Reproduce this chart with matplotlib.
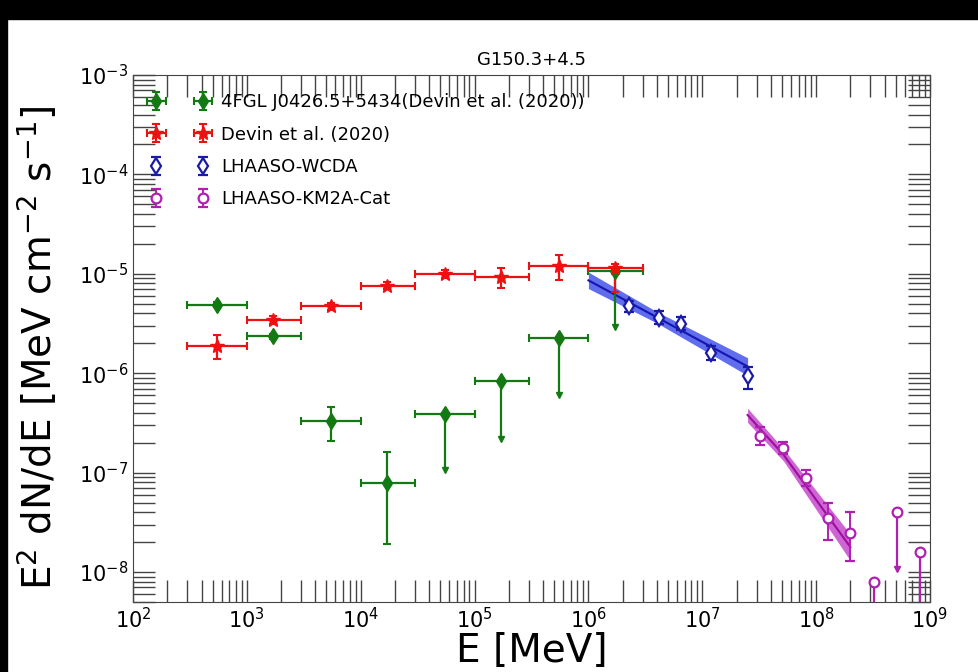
import numpy as np
import matplotlib.pyplot as plt
from matplotlib.patches import Rectangle
from matplotlib.ticker import LogLocator, NullFormatter

# 4FGL J0426.5+5434 (Devin et al. 2020): energy bins [MeV] and E^2 dN/dE [MeV cm^-2 s^-1]
fgl_e = [5.5e2, 1.7e3, 5.5e3, 1.7e4]
fgl_elo = [3e2, 1e3, 3e3, 1e4]
fgl_ehi = [1e3, 3e3, 1e4, 3e4]
fgl_flux = [4.9e-6, 2.35e-6, 3.3e-7, 7.8e-8]
fgl_lo = [4.6e-6, 2.2e-6, 2.1e-7, 1.9e-8]
fgl_hi = [5.2e-6, 2.5e-6, 4.6e-7, 1.6e-7]
# upper limits
fgl_ul_e = [5.5e4, 1.7e5, 5.5e5, 1.7e6]
fgl_ul_elo = [3e4, 1e5, 3e5, 1e6]
fgl_ul_ehi = [1e5, 3e5, 1e6, 3e6]
fgl_ul = [3.9e-7, 8.3e-7, 2.25e-6, 1.07e-5]
fgl_ul_end = [1.07e-7, 2.2e-7, 6.0e-7, 2.95e-6]

# Devin et al. (2020)
dev_e = [5.5e2, 1.7e3, 5.5e3, 1.7e4, 5.5e4, 1.7e5, 5.5e5, 1.7e6]
dev_elo = [3e2, 1e3, 3e3, 1e4, 3e4, 1e5, 3e5, 1e6]
dev_ehi = [1e3, 3e3, 1e4, 3e4, 1e5, 3e5, 1e6, 3e6]
dev_flux = [1.9e-6, 3.45e-6, 4.7e-6, 7.6e-6, 1.0e-5, 9.2e-6, 1.2e-5, 1.15e-5]
dev_lo = [1.38e-6, 3.1e-6, 4.3e-6, 7.0e-6, 9.0e-6, 7.2e-6, 8.6e-6, 6.5e-6]
dev_hi = [2.45e-6, 3.8e-6, 5.1e-6, 8.2e-6, 1.1e-5, 1.15e-5, 1.55e-5, 1.25e-5]

# LHAASO-WCDA
wcda_e = [2.26e6, 4.14e6, 6.46e6, 1.2e7, 2.5e7]
wcda_flux = [4.7e-6, 3.6e-6, 3.15e-6, 1.6e-6, 9.3e-7]
wcda_lo = [4.1e-6, 3.1e-6, 2.75e-6, 1.35e-6, 6.9e-7]
wcda_hi = [5.3e-6, 4.2e-6, 3.7e-6, 1.9e-6, 1.15e-6]
wcda_band_e = [1e6, 4e6, 2.5e7]
wcda_band_mid = [8.6e-6, 3.65e-6, 1.17e-6]
wcda_band_lo = [7.1e-6, 3.2e-6, 9.5e-7]
wcda_band_hi = [1.04e-5, 4.15e-6, 1.43e-6]

# LHAASO-KM2A-Cat
km2a_e = [3.2e7, 5.1e7, 8.1e7, 1.26e8, 2.0e8]
km2a_flux = [2.32e-7, 1.76e-7, 8.8e-8, 3.5e-8, 2.5e-8]
km2a_lo = [1.9e-7, 1.55e-7, 7.4e-8, 2.1e-8, 1.3e-8]
km2a_hi = [2.9e-7, 2.05e-7, 1.07e-7, 5.0e-8, 4.0e-8]
km2a_ul_e = [3.2e8, 5.1e8, 8.1e8]
km2a_ul = [7.9e-9, 4.0e-8, 1.6e-8]
km2a_ul_end = [2e-9, 1.07e-8, 2e-9]
km2a_band_e = [2.5e7, 5.2e7, 2.0e8]
km2a_band_mid = [3.8e-7, 1.5e-7, 1.78e-8]
km2a_band_lo = [3.2e-7, 1.3e-7, 1.3e-8]
km2a_band_hi = [4.45e-7, 1.72e-7, 2.4e-8]

green = '#137a13'
red = '#ee1111'
blue = '#1a1aa8'
magenta = '#b020b0'


def asym(v, lo, hi):
    v = np.array(v)
    return [v - np.array(lo), np.array(hi) - v]


fig = plt.figure(figsize=(9.79, 6.72), dpi=100)
ax = fig.add_axes([133 / 979, 1 - 602 / 672, (930 - 133) / 979, (602 - 75) / 672])

# bands
ax.fill_between(wcda_band_e, wcda_band_lo, wcda_band_hi, color='#3848e8', alpha=0.8, lw=0)
ax.plot(wcda_band_e, wcda_band_mid, color='#1515b0', lw=1.5)
ax.fill_between(km2a_band_e, km2a_band_lo, km2a_band_hi, color='#c030c8', alpha=0.75, lw=0)
ax.plot(km2a_band_e, km2a_band_mid, color='#9a109a', lw=1.5)

# 4FGL
ax.errorbar(fgl_e, fgl_flux, xerr=asym(fgl_e, fgl_elo, fgl_ehi), yerr=asym(fgl_flux, fgl_lo, fgl_hi),
            fmt='d', color=green, ms=8, lw=1.6, capsize=3, capthick=1.5,
            label='4FGL J0426.5+5434(Devin et al. (2020))')
ax.errorbar(fgl_ul_e, fgl_ul, xerr=asym(fgl_ul_e, fgl_ul_elo, fgl_ul_ehi),
            yerr=[np.array(fgl_ul) - np.array(fgl_ul_end), np.zeros(len(fgl_ul))],
            fmt='d', color=green, ms=8, lw=1.6, capsize=0)
ax.errorbar(fgl_ul_e, fgl_ul, xerr=asym(fgl_ul_e, fgl_ul_elo, fgl_ul_ehi),
            fmt='none', ecolor=green, lw=0, capsize=3, capthick=1.5)
ax.plot(fgl_ul_e, fgl_ul_end, 'v', color=green, ms=5)

# Devin
ax.errorbar(dev_e, dev_flux, xerr=asym(dev_e, dev_elo, dev_ehi), yerr=asym(dev_flux, dev_lo, dev_hi),
            fmt='*', color=red, ms=10, lw=1.6, capsize=3, capthick=1.5,
            label='Devin et al. (2020)')

# WCDA
ax.errorbar(wcda_e, wcda_flux, yerr=asym(wcda_flux, wcda_lo, wcda_hi),
            fmt='d', color=blue, mfc='white', mec=blue, mew=1.6, ms=8, lw=1.4,
            capsize=3.5, capthick=1.4, label='LHAASO-WCDA')

# KM2A
ax.errorbar(km2a_e, km2a_flux, yerr=asym(km2a_flux, km2a_lo, km2a_hi),
            fmt='o', color=magenta, mfc='white', mec=magenta, mew=1.6, ms=7, lw=1.4,
            capsize=3.5, capthick=1.4, label='LHAASO-KM2A-Cat')
ax.errorbar(km2a_ul_e, km2a_ul,
            yerr=[np.array(km2a_ul) - np.array(km2a_ul_end), np.zeros(len(km2a_ul))],
            fmt='o', color=magenta, mfc='white', mec=magenta, mew=1.6, ms=7, lw=1.6, capsize=0)
ax.plot(km2a_ul_e, km2a_ul_end, 'v', color=magenta, ms=5)

ax.set_xscale('log')
ax.set_yscale('log')
ax.set_xlim(1e2, 1e9)
ax.set_ylim(5e-9, 1e-3)

for axis in (ax.xaxis, ax.yaxis):
    axis.set_major_locator(LogLocator(base=10, numticks=30))
    axis.set_minor_locator(LogLocator(base=10, subs=np.arange(2, 10), numticks=100))
    axis.set_minor_formatter(NullFormatter())
ax.tick_params(which='both', direction='in', top=True, right=True, length=16, width=1,
               color='#444444', labelsize=15)
for s in ax.spines.values():
    s.set_color('#444444')

ax.set_title('G150.3+4.5', fontsize=13, pad=7)
ax.set_xlabel('E [MeV]', fontsize=28, labelpad=0)
ax.set_ylabel(r'E$^2$ dN/dE [MeV cm$^{-2}$ s$^{-1}$]', fontsize=28)
ax.yaxis.set_label_coords(-0.092, 0.483)

ax.legend(loc='upper left', numpoints=2, frameon=False, fontsize=13, handlelength=3.2,
          labelspacing=0.8, borderaxespad=0.6, handletextpad=0.7)

# black frame strips of the screenshot
fig.patches.append(Rectangle((0, 1 - 19 / 672), 1, 19 / 672, transform=fig.transFigure,
                             color='black', zorder=-1))
fig.patches.append(Rectangle((0, 0), 7 / 979, 1, transform=fig.transFigure,
                             color='black', zorder=-1))

fig.savefig('out.png', dpi=100)
